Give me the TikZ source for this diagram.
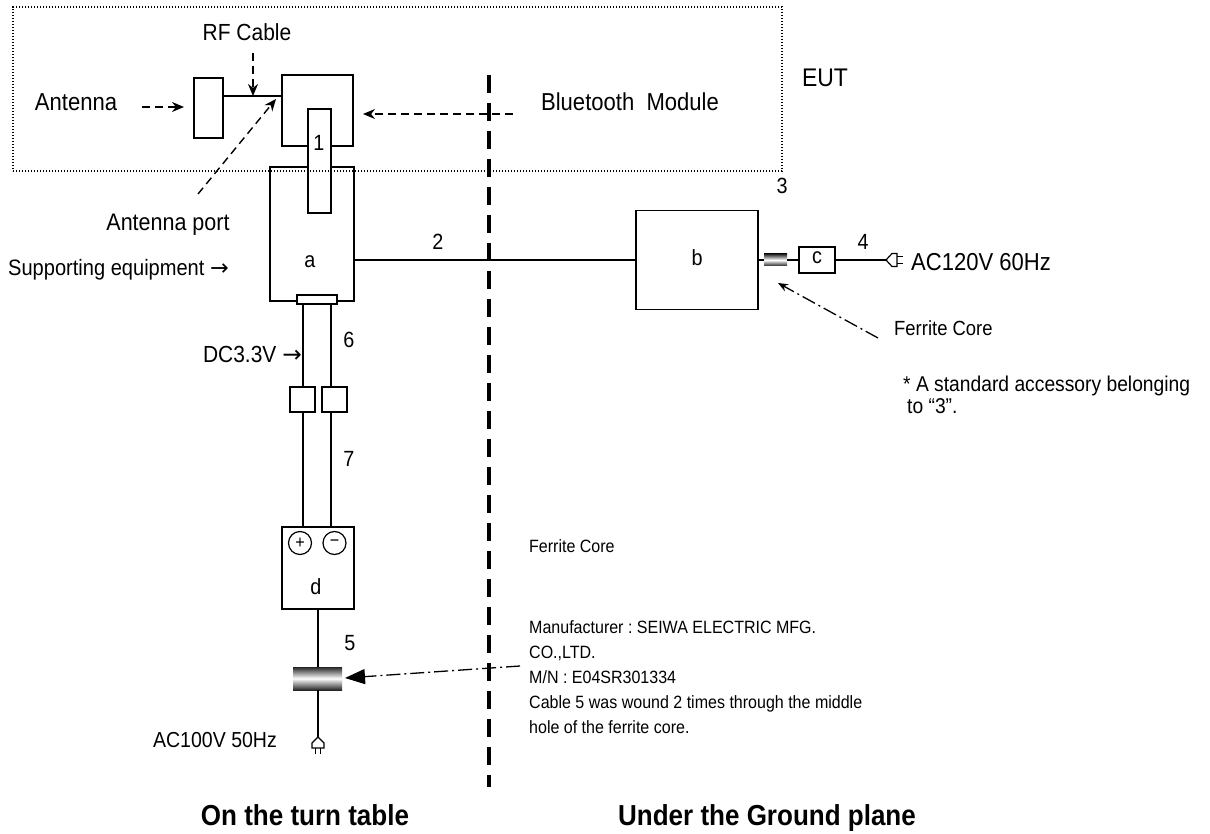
\documentclass[tikz,border=0pt]{standalone}
\usepackage{fontspec}
\setmainfont{Liberation Sans}[FakeStretch=0.9]
\newfontfamily\symf{DejaVu Sans}
\usetikzlibrary{arrows.meta,calc}
\newcommand\fsz[1]{\fontsize{#1}{#1}\selectfont}
\frenchspacing
\begin{document}
\begin{tikzpicture}[x=1pt,y=-1pt,
  box/.style={draw,line width=1.6pt,fill=white,inner sep=0pt},
  wire/.style={line width=1.4pt},
  darr/.style={line width=1.4pt,dash pattern=on 8pt off 5pt,-{Stealth[length=12pt,width=10pt]}},
  ddarr/.style={line width=1.3pt,dash pattern=on 14pt off 4pt on 2pt off 4pt},
  fer/.style={inner sep=0pt,top color=black!85,bottom color=black!85,middle color=white},
  txt/.style={inner sep=0pt},
  lbl/.style={inner sep=0pt,font=\fsz{22}},
  plug/.style={line width=1.2pt,fill=white}]
\useasboundingbox (0,0) rectangle (1210,834);
\fill[white] (0,0) rectangle (1210,834);

% divider
\coordinate (vt) at (489,75);
\coordinate (vb) at (489,787);
\draw[line width=3.5pt,dash pattern=on 18pt off 10pt] (vt) -- (vb);

% EUT parts
\node[box,minimum width=71pt,minimum height=71pt] (mod) at (317.5,110.5) {};
\node[box,minimum width=29pt,minimum height=60pt] (ant) at (208.5,108) {};
\coordinate (rfpt) at (253,96);
\draw[wire] (ant.east |- rfpt) -- (mod.west |- rfpt);

% supporting equipment a
\node[box,minimum width=84pt,minimum height=134pt] (a) at (312,234) {};
\node[box,minimum width=40pt,minimum height=9pt] (bar) at (317,299.5) {};
\node[box,minimum width=23pt,minimum height=104pt] (one) at (319.5,161) {};

% b, ferrite, c, plug
\node[box,minimum width=122pt,minimum height=99pt] (b) at (697,260) {};
\node[fer,minimum width=23pt,minimum height=12pt] (f1) at (775.5,260) {};
\node[box,minimum width=36pt,minimum height=26pt] (c) at (817,260) {};
\coordinate (plugA) at (886,260);
\draw[wire] (a.east |- b.west) -- (b.west);
\draw[wire] (b.east) -- (f1.west);
\draw[wire] (f1.east) -- (c.west);
\draw[wire] (c.east) -- (plugA);
\begin{scope}[shift={(plugA)}]
  \draw[plug] (0,0) -- (6,-6.5) -- (11,-6.5) -- (11,6.5) -- (6,6.5) -- cycle;
  \draw[line width=1.2pt] (11,-3.5) -- (17,-3.5) (11,3.5) -- (17,3.5);
\end{scope}

% lower cables
\node[box,minimum width=25pt,minimum height=25pt] (s1) at (302.5,399.5) {};
\node[box,minimum width=25pt,minimum height=25pt] (s2) at (334.5,399.5) {};
\node[box,minimum width=72pt,minimum height=82pt] (d) at (318,568) {};
\coordinate (lx) at (303,0);
\coordinate (rx) at (331,0);
\draw[wire] (lx |- bar.south) -- (lx |- s1.north);
\draw[wire] (lx |- s1.south) -- (lx |- d.north);
\draw[wire] (rx |- bar.south) -- (rx |- s2.north);
\draw[wire] (rx |- s2.south) -- (rx |- d.north);
\node[draw,circle,line width=1.2pt,minimum size=23pt,inner sep=0pt,font=\fsz{18}] (pos) at (300,543) {+};
\node[draw,circle,line width=1.2pt,minimum size=23pt,inner sep=0pt,font=\fsz{18}] (neg) at (334.5,543) {−};

\node[fer,minimum width=49pt,minimum height=23pt] (f2) at (317.5,678.5) {};
\coordinate (plugB) at (318,737);
\draw[wire] (d.south) -- (d.south |- f2.north);
\draw[wire] (d.south |- f2.south) -- (plugB);
\begin{scope}[shift={(plugB)}]
  \draw[plug] (0,0) -- (-6,6) -- (-6,11) -- (6,11) -- (6,6) -- cycle;
  \draw[line width=1.2pt] (-2.5,11) -- (-2.5,17) (2.5,11) -- (2.5,17);
\end{scope}

% arrows
\coordinate (rfS) at (253,53);
\draw[darr] (rfS) -- (rfpt);
\coordinate (antS) at (142,107);
\coordinate (antE) at (184,107);
\draw[darr] (antS) -- (antE);
\coordinate (btS) at (513,114);
\coordinate (btE) at (363,114);
\draw[darr] (btS) -- (btE);
\coordinate (apS) at (198,194);
\coordinate (apE) at (276,99);
\draw[darr] (apS) -- (apE);
\coordinate (fc1S) at (878,338);
\coordinate (fc1E) at (778,283);
\draw[ddarr,-{Stealth[length=10pt,width=8pt]}] (fc1S) -- (fc1E);
\coordinate (fc2S) at (520,666);
\coordinate (fc2E) at (345,678);
\draw[ddarr,-{Triangle[length=20pt,width=15pt]}] (fc2S) -- (fc2E);

% EUT dotted frame
\node[draw,line width=1.3pt,dash pattern=on 1.4pt off 1.6pt,inner sep=0pt,minimum width=769pt,minimum height=164pt] (eut) at (397.5,89) {};

% texts
\node[txt,anchor=base,font=\fsz{23.3}] (rftxt) at (247,40.3) {RF Cable};
\node[txt,anchor=base,font=\fsz{24.5}] (anttxt) at (76,110.8) {Antenna};
\node[txt,anchor=base,font=\fsz{23.9}] (aptxt) at (168,230.5) {Antenna port};
\node[txt,anchor=base,font=\fsz{24.5}] (bttxt) at (630,110.8) {Bluetooth\enspace Module};
\node[txt,anchor=base,font=\fsz{25.5}] (euttxt) at (825,87) {EUT};
\node[txt,anchor=base east,font=\fsz{22.3}] (suptxt) at (229,276) {Supporting equipment {\symf →}};
\node[lbl,anchor=base] (l1) at (319,151) {1};
\node[lbl,anchor=base] (l2) at (438,250) {2};
\node[lbl,anchor=base] (l3) at (782,194) {3};
\node[lbl,anchor=base] (l4) at (863,250) {4};
\node[lbl,anchor=base] (l5) at (350,650) {5};
\node[lbl,anchor=base] (l6) at (349,347) {6};
\node[lbl,anchor=base] (l7) at (349,466) {7};
\node[lbl,anchor=base] (la) at (310,268) {a};
\node[lbl,anchor=base] (lb) at (697,266) {b};
\node[lbl,anchor=base] (lc) at (817,264) {c};
\node[lbl,anchor=base] (ld) at (316,594) {d};
\node[txt,anchor=base west,font=\fsz{24.5}] (ac120) at (911,270.8) {AC120V 60Hz};
\node[txt,anchor=base west,font=\fsz{20.5}] (fc1txt) at (894,335.3) {Ferrite Core};
\node[txt,anchor=base west,font=\fsz{21.4}] (acc1) at (903,391.7) {* A standard accessory belonging};
\node[txt,anchor=base west,font=\fsz{21.4}] (acc2) at (907,413.7) {to “3”.};
\node[txt,anchor=base east,font=\fsz{23.3}] (dctxt) at (302,362.3) {DC3.3V {\symf →}};
\node[txt,anchor=base,font=\fsz{21.7}] (ac100) at (215,747.8) {AC100V 50Hz};
\node[txt,anchor=base west,font=\fsz{17.8}] (fc2txt) at (529,552.4) {Ferrite Core};
\node[txt,anchor=base west,font=\fsz{17.8}] (m1) at (529,633.4) {Manufacturer : SEIWA ELECTRIC MFG.};
\node[txt,anchor=base west,font=\fsz{17.8}] (m2) at (529,658.4) {CO.,LTD.};
\node[txt,anchor=base west,font=\fsz{17.8}] (m3) at (529,683.4) {M/N : E04SR301334};
\node[txt,anchor=base west,font=\fsz{17.8}] (m4) at (529,708.4) {Cable 5 was wound 2 times through the middle};
\node[txt,anchor=base west,font=\fsz{17.8}] (m5) at (529,733.4) {hole of the ferrite core.};
\node[txt,anchor=base,font=\fsz{28.9}\bfseries] (bl) at (305,825) {On the turn table};
\node[txt,anchor=base,font=\fsz{28.9}\bfseries] (br) at (767,825) {Under the Ground plane};
\end{tikzpicture}
\end{document}
